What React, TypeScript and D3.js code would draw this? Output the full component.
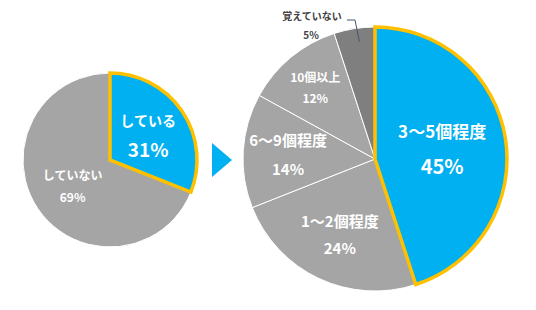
import React from "react";
import * as d3 from "d3";

const leftLabels = ["している", "していない"];
const leftValues = [31, 69];
const rightLabels = ["3〜5個程度", "1〜2個程度", "6〜9個程度", "10個以上", "覚えていない"];
const rightValues = [45, 24, 14, 12, 5];

const BLUE = "#00B0F0";
const GRAY = "#A5A5A5";
const DARK = "#7F7F7F";
const YELLOW = "#FFC000";
const FONT = "'Noto Sans CJK JP', 'Noto Sans', sans-serif";

type LabelStyle = { rf: number; size1: number; size2: number; gap: number; fill: string };

function Pie({ cx, cy, r, labels, values, colors, styles, highlight }: {
  cx: number; cy: number; r: number; labels: string[]; values: number[]; colors: string[];
  styles: LabelStyle[]; highlight: number;
}) {
  const pie = d3.pie<number>().sort(null).value((d) => d)(values);
  const arc = d3.arc<d3.PieArcDatum<number>>().innerRadius(0).outerRadius(r);
  return (
    <g transform={`translate(${cx},${cy})`}>
      {pie.map((p, i) => (
        <path key={i} d={arc(p) || ""} fill={colors[i]} stroke="#fff" strokeWidth={1} />
      ))}
      {pie.map((p, i) =>
        i === highlight ? (
          <path key={"h" + i} d={arc(p) || ""} fill="none" stroke={YELLOW} strokeWidth={3.5} strokeLinejoin="miter" />
        ) : null
      )}
      {pie.map((p, i) => {
        const s = styles[i];
        if (s.rf <= 0) return null;
        const la = d3.arc<d3.PieArcDatum<number>>().innerRadius(r * s.rf).outerRadius(r * s.rf);
        const [x, y] = la.centroid(p);
        return (
          <g key={"t" + i} fontFamily={FONT} fontWeight="bold" fill={s.fill} textAnchor="middle" dominantBaseline="central">
            <text x={x} y={y - s.gap / 2} fontSize={s.size1}>{labels[i]}</text>
            <text x={x} y={y + s.gap / 2} fontSize={s.size2}>{values[i]}%</text>
          </g>
        );
      })}
    </g>
  );
}

export default function App() {
  const lcx = 110, lcy = 160, lr = 87;
  const rcx = 375, rcy = 159, rr = 132;
  const leftStyles: LabelStyle[] = [
    { rf: 0.53, size1: 14, size2: 19, gap: 28, fill: "#fff" },
    { rf: 0.52, size1: 12, size2: 12, gap: 22, fill: "#fff" },
  ];
  const rightStyles: LabelStyle[] = [
    { rf: 0.515, size1: 17, size2: 20, gap: 35, fill: "#fff" },
    { rf: 0.626, size1: 15, size2: 15, gap: 27, fill: "#fff" },
    { rf: 0.66, size1: 15, size2: 15, gap: 29, fill: "#fff" },
    { rf: 0.71, size1: 12, size2: 12, gap: 21, fill: "#fff" },
    { rf: 0, size1: 10, size2: 10, gap: 0, fill: "#404040" },
  ];
  const rp = d3.pie<number>().sort(null).value((d) => d)(rightValues);
  const small = rp[4];
  const edge = d3.arc<d3.PieArcDatum<number>>().innerRadius(rr * 0.9).outerRadius(rr * 0.9).centroid(small);
  return (
    <svg width={536} height={310} style={{ position: "absolute", left: 0, top: 0, background: "#fff" }}>
      <Pie cx={lcx} cy={lcy} r={lr} labels={leftLabels} values={leftValues} colors={[BLUE, GRAY]} styles={leftStyles} highlight={0} />
      <path d="M212,143 L232,160 L212,177 Z" fill={BLUE} />
      <Pie cx={rcx} cy={rcy} r={rr} labels={rightLabels} values={rightValues} colors={[BLUE, GRAY, GRAY, GRAY, DARK]} styles={rightStyles} highlight={0} />
      <polyline
        points={`${rcx + edge[0] + 3},${rcy + edge[1]} ${rcx - 20},${rcy - 139} ${rcx - 28},${rcy - 139}`}
        fill="none" stroke="#44546A" strokeWidth={1} />
      <g fontFamily={FONT} fontWeight="bold" fill="#404040" fontSize={10} textAnchor="middle" dominantBaseline="central">
        <text x={312} y={15}>{rightLabels[4]}</text>
        <text x={311} y={34.5}>{rightValues[4]}%</text>
      </g>
    </svg>
  );
}
